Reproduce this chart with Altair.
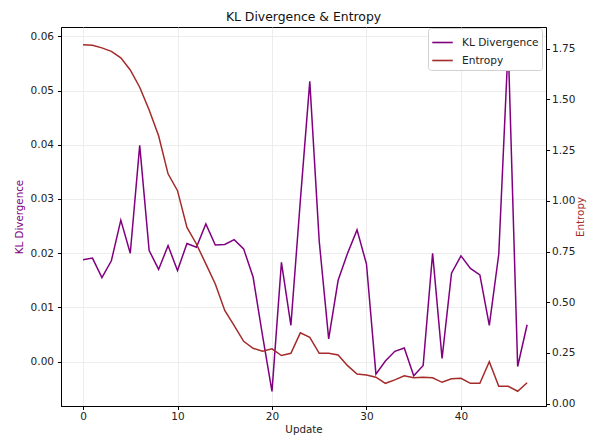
import altair as alt
import pandas as pd

updates = list(range(48))
kl_divergence = [0.0188, 0.0191, 0.0155, 0.0186, 0.0261, 0.0200, 0.0399, 0.0205, 0.0170, 0.0214,
                 0.0168, 0.0218, 0.0211, 0.0254, 0.0215, 0.0216, 0.0225, 0.0208, 0.0156, 0.0048,
                 -0.0055, 0.0183, 0.0067, 0.0297, 0.0517, 0.0222, 0.0042, 0.0150, 0.0200, 0.0243,
                 0.0180, -0.0023, 0.0001, 0.0019, 0.0025, -0.0026, -0.0007, 0.0200, 0.0006, 0.0163,
                 0.0195, 0.0172, 0.0160, 0.0067, 0.0198, 0.0585, -0.0009, 0.0068]
entropy = [1.770, 1.767, 1.754, 1.737, 1.705, 1.645, 1.560, 1.448, 1.321, 1.133,
           1.050, 0.869, 0.787, 0.689, 0.590, 0.459, 0.385, 0.307, 0.273, 0.258,
           0.270, 0.237, 0.248, 0.349, 0.327, 0.248, 0.248, 0.240, 0.187, 0.146,
           0.141, 0.130, 0.100, 0.117, 0.137, 0.127, 0.130, 0.127, 0.105, 0.122,
           0.125, 0.100, 0.100, 0.207, 0.085, 0.085, 0.061, 0.103]

series_names = ["KL Divergence", "Entropy"]
series_colors = ["#800080", "#a52a2a"]
x_ticks = [0, 10, 20, 30, 40]
kl_ticks = [0.00, 0.01, 0.02, 0.03, 0.04, 0.05, 0.06]
ent_ticks = [0.00, 0.25, 0.50, 0.75, 1.00, 1.25, 1.50, 1.75]

df = pd.DataFrame({
    "Update": updates + updates,
    "value": kl_divergence + entropy,
    "series": [series_names[0]] * len(updates) + [series_names[1]] * len(updates),
})

FONT = "DejaVu Sans"

color = alt.Color(
    "series:N",
    scale=alt.Scale(domain=series_names, range=series_colors),
    legend=alt.Legend(
        title=None, orient="none", legendX=367, legendY=1,
        fillColor="white", strokeColor="#d0d0d0", cornerRadius=3, padding=3,
        symbolType="stroke", symbolSize=420, symbolStrokeWidth=1.6,
        labelFontSize=10.6, labelFont=FONT, labelColor="#222", labelOffset=8,
        rowPadding=-6,
    ),
)

x_enc = alt.X(
    "Update:Q",
    scale=alt.Scale(domain=[-2.33, 49.0], nice=False, zero=False),
    axis=alt.Axis(title="Update", values=x_ticks, format="d", grid=True,
                  labelPadding=2, titlePadding=2),
)

kl_layer = alt.Chart(df).transform_filter(
    alt.datum.series == series_names[0]
).mark_line(strokeWidth=1.5).encode(
    x=x_enc,
    y=alt.Y(
        "value:Q",
        scale=alt.Scale(domain=[-0.00819, 0.06173], nice=False, zero=False),
        axis=alt.Axis(title="KL Divergence", titleColor=series_colors[0], values=kl_ticks,
                      format=".2f", orient="left", grid=True, labelPadding=4, titlePadding=6),
    ),
    color=color,
)

ent_layer = alt.Chart(df).transform_filter(
    alt.datum.series == series_names[1]
).mark_line(strokeWidth=1.5).encode(
    x=x_enc,
    y=alt.Y(
        "value:Q",
        scale=alt.Scale(domain=[-0.0118, 1.857], nice=False, zero=False),
        axis=alt.Axis(title="Entropy", titleColor=series_colors[1], values=ent_ticks,
                      format=".2f", orient="right", grid=False, titleAngle=270,
                      titleBaseline="top", labelPadding=2, titlePadding=1),
    ),
    color=color,
)

chart = alt.layer(kl_layer, ent_layer).resolve_scale(y="independent").properties(
    width=485, height=379,
    title=alt.TitleParams("KL Divergence & Entropy", fontSize=12.4, font=FONT,
                          fontWeight="normal", color="#111", offset=4),
    padding={"left": 6, "top": 2, "right": 0, "bottom": 0},
).configure_view(
    stroke="black", strokeWidth=1,
).configure_axis(
    labelFont=FONT, titleFont=FONT, labelFontSize=10.5, titleFontSize=10.3,
    titleFontWeight="normal", labelColor="#222", titleColor="#222",
    domainColor="black", tickColor="black", tickSize=3.5,
    gridColor="#e8e8e8", gridWidth=0.8,
)

chart.save("out.html", embed_options={"renderer": "svg", "actions": False})
